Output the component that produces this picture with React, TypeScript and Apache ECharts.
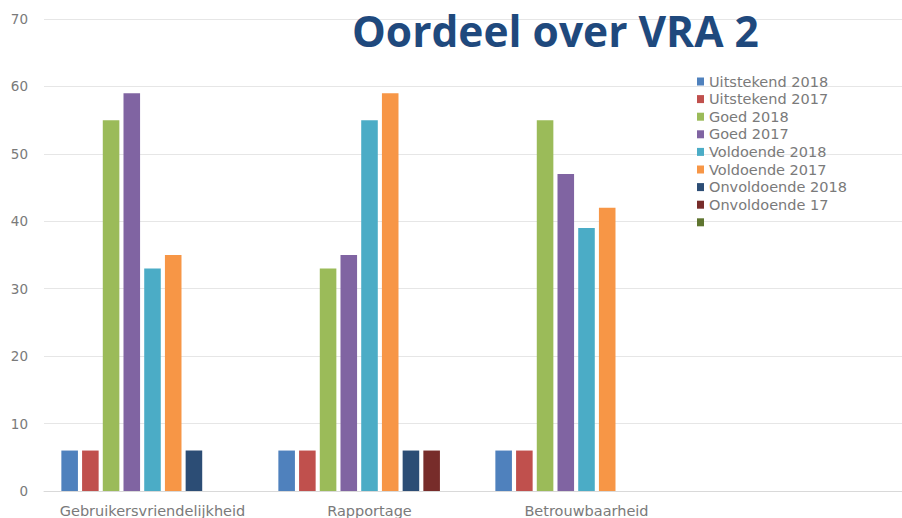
import React, { useEffect, useRef } from "react";
import * as echarts from "echarts";

const categories = ["Gebruikersvriendelijkheid", "Rapportage", "Betrouwbaarheid", ""];
const seriesNames = [
  "Uitstekend 2018",
  "Uitstekend 2017",
  "Goed 2018",
  "Goed 2017",
  "Voldoende 2018",
  "Voldoende 2017",
  "Onvoldoende 2018",
  "Onvoldoende 17",
  " ",
];
const uitstekend2018 = [6, 6, 6, null];
const uitstekend2017 = [6, 6, 6, null];
const goed2018 = [55, 33, 55, null];
const goed2017 = [59, 35, 47, null];
const voldoende2018 = [33, 55, 39, null];
const voldoende2017 = [35, 59, 42, null];
const onvoldoende2018 = [6, 6, null, null];
const onvoldoende17 = [null, 6, null, null];
const leeg = [null, null, null, null];
const seriesValues = [
  uitstekend2018,
  uitstekend2017,
  goed2018,
  goed2017,
  voldoende2018,
  voldoende2017,
  onvoldoende2018,
  onvoldoende17,
  leeg,
];
const colors = ["#4F81BD", "#C0504D", "#9BBB59", "#8064A2", "#4BACC6", "#F79646", "#2C4D75", "#772C2A", "#5F7530"];

export default function App() {
  const ref = useRef<HTMLDivElement>(null);
  useEffect(() => {
    document.body.style.margin = "0";
    document.body.style.overflow = "hidden";
    document.documentElement.style.overflow = "hidden";
    const chart = echarts.init(ref.current!, null, { renderer: "svg" });
    chart.setOption({
      animation: false,
      color: colors,
      title: {
        text: "Oordeel over VRA 2",
        left: 347,
        top: 4,
        textStyle: { fontFamily: "Open Sans", fontWeight: "bold", fontSize: 42.5, color: "#1F497D" },
      },
      legend: {
        orient: "vertical",
        left: 692,
        top: 69,
        itemWidth: 7,
        itemHeight: 8,
        itemGap: 2.6,
        icon: "rect",
        data: seriesNames,
        textStyle: { fontFamily: "DejaVu Sans", fontSize: 14.5, color: "#7a7a7a", lineHeight: 15 },
      },
      grid: { left: 44, right: 0, top: 19, bottom: 27, containLabel: false },
      xAxis: {
        type: "category",
        data: categories,
        axisLine: { lineStyle: { color: "#d9d9d9" } },
        axisTick: { show: false },
        axisLabel: { fontFamily: "DejaVu Sans", fontSize: 14.5, color: "#7a7a7a", margin: 12, interval: 0 },
      },
      yAxis: {
        type: "value",
        min: 0,
        max: 70,
        interval: 10,
        axisLine: { show: false },
        axisTick: { show: false },
        splitLine: { lineStyle: { color: "#e6e6e6" } },
        axisLabel: { fontFamily: "DejaVu Sans", fontSize: 13.5, color: "#7a7a7a", margin: 16 },
      },
      series: seriesNames.map((name, i) => ({
        name,
        type: "bar",
        data: seriesValues[i],
        barGap: "25%",
        barCategoryGap: "16%",
        itemStyle: { color: colors[i] },
      })),
    });
    return () => chart.dispose();
  }, []);
  return <div ref={ref} style={{ width: 912, height: 518 }} />;
}
